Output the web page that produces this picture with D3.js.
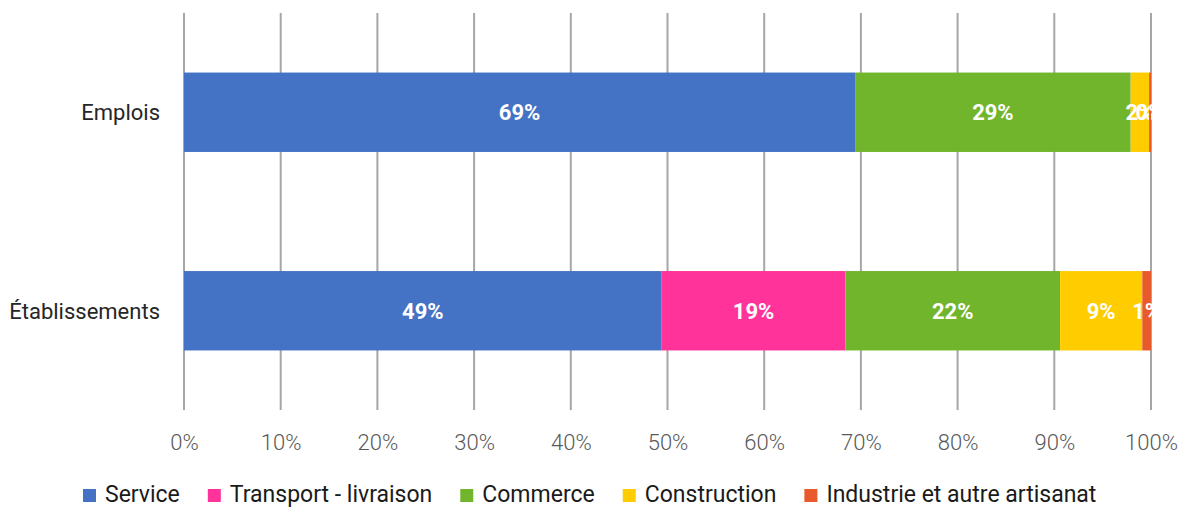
<!DOCTYPE html>
<html>
<head>
<meta charset="utf-8">
<script src="https://cdn.jsdelivr.net/npm/d3@7"></script>
<style>
  body { margin: 0; background: #fff; }
  text { font-family: Roboto, "Liberation Sans", sans-serif; }
</style>
</head>
<body>
<svg id="chart" width="1183" height="508"></svg>
<script>
// categories (top to bottom) and series
const categories = ['Emplois', 'Établissements'];
const seriesNames = ['Service', 'Transport - livraison', 'Commerce', 'Construction', 'Industrie et autre artisanat'];
const seriesColors = ['#4472c4', '#ff3399', '#70b52c', '#ffcc00', '#e8592b'];
const service = [69.4, 49.4];
const transport = [0, 19.0];
const commerce = [28.5, 22.2];
const construction = [1.9, 8.5];
const industrie = [0.2, 0.9];
const xTicks = [0, 10, 20, 30, 40, 50, 60, 70, 80, 90, 100];

const values = [service, transport, commerce, construction, industrie];
const rows = categories.map((c, i) => {
  const r = { cat: c };
  seriesNames.forEach((s, j) => r[s] = values[j][i]);
  return r;
});

const margin = { top: 13, left: 184, right: 32 };
const width = 1183 - margin.left - margin.right;
const plotH = 397;

const svg = d3.select('#chart');
const g = svg.append('g').attr('transform', `translate(${margin.left},${margin.top})`);

const x = d3.scaleLinear().domain([0, 100]).range([0, width]);
const y = d3.scaleBand().domain(categories).range([0, plotH]).paddingInner(0.6).paddingOuter(0.3);

// grid lines
g.selectAll('.grid').data(xTicks).enter().append('line')
  .attr('x1', d => x(d)).attr('x2', d => x(d))
  .attr('y1', 0).attr('y2', plotH)
  .attr('stroke', '#a6a6a6').attr('stroke-width', 2);

// axis
const xAxis = d3.axisBottom(x).tickValues(xTicks).tickFormat(d => d + '%').tickSize(0).tickPadding(24);
const ax = g.append('g').attr('transform', `translate(0,${plotH})`).call(xAxis);
ax.select('.domain').remove();
ax.selectAll('text').attr('fill', '#595959').style('font-size', '22px')
  .style('font-weight', 300).style('font-family', 'Roboto, sans-serif');

// stacked bars
const stack = d3.stack().keys(seriesNames)(rows);
const layers = g.selectAll('.layer').data(stack).enter().append('g')
  .attr('fill', (d, i) => seriesColors[i]);

layers.selectAll('rect').data(d => d).enter().append('rect')
  .attr('x', d => x(d[0]))
  .attr('y', d => y(d.data.cat))
  .attr('width', d => x(d[1]) - x(d[0]))
  .attr('height', y.bandwidth());

layers.selectAll('text').data(d => d.filter(p => p[1] - p[0] > 0)).enter().append('text')
  .attr('x', d => x((d[0] + d[1]) / 2))
  .attr('y', d => y(d.data.cat) + y.bandwidth() / 2)
  .attr('dy', '0.36em')
  .attr('text-anchor', 'middle')
  .attr('fill', '#fff')
  .style('font-size', '22px')
  .style('font-weight', 'bold')
  .text(d => Math.round(d[1] - d[0]) + '%');

// category labels
g.selectAll('.cat').data(categories).enter().append('text')
  .attr('x', -24)
  .attr('y', d => y(d) + y.bandwidth() / 2)
  .attr('dy', '0.36em')
  .attr('text-anchor', 'end')
  .attr('fill', '#262626')
  .style('font-size', '22px')
  .text(d => d);

// legend
const legend = svg.append('g').attr('transform', 'translate(83,494)');
let lx = 0;
seriesNames.forEach((s, i) => {
  const item = legend.append('g').attr('transform', `translate(${lx},0)`);
  item.append('rect').attr('x', 0).attr('y', -5).attr('width', 13).attr('height', 13).attr('fill', seriesColors[i]);
  const t = item.append('text').attr('x', 22).attr('y', 0).attr('dy', '0.36em')
    .attr('fill', '#1a1a1a').style('font-size', '23px').text(s);
  lx += 22 + t.node().getComputedTextLength() + 28;
});
</script>
</body>
</html>
